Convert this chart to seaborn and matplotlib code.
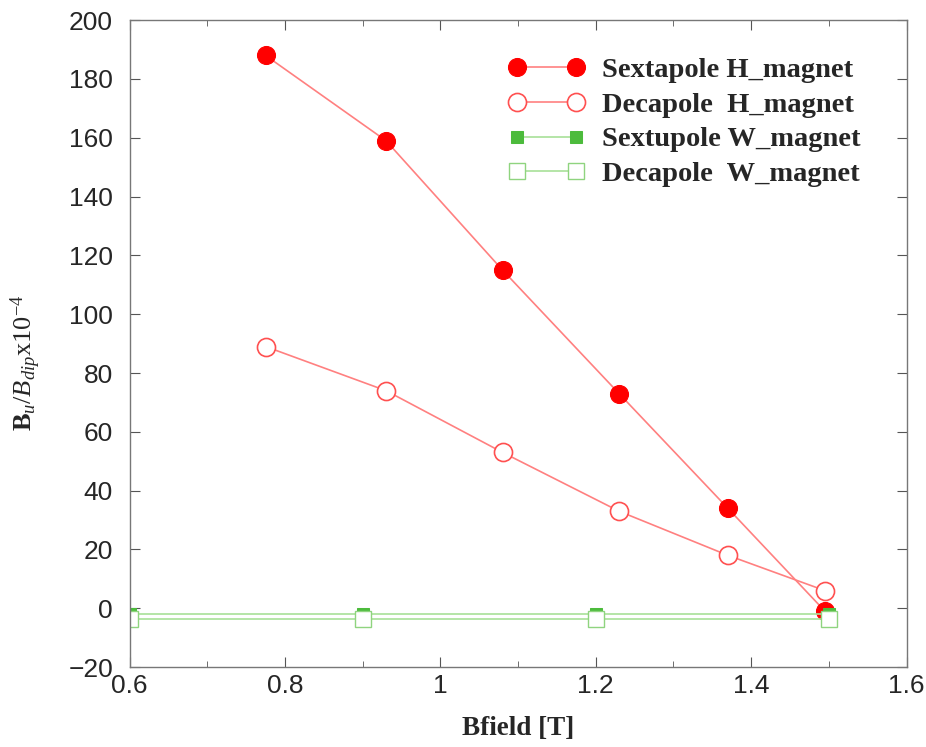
import matplotlib
matplotlib.use("Agg")
import matplotlib.pyplot as plt
import seaborn as sns
from matplotlib.ticker import MultipleLocator

# values
bfield_h = [0.775, 0.93, 1.08, 1.23, 1.37, 1.495]
sextapole_h = [188, 159, 115, 73, 34, -1]
decapole_h = [89, 74, 53, 33, 18, 6]

bfield_w = [0.6, 0.9, 1.2, 1.5]
sextupole_w = [-2, -2, -2, -2]
decapole_w = [-3.6, -3.6, -3.6, -3.6]

xticks = [0.6, 0.8, 1.0, 1.2, 1.4, 1.6]
xtick_labels = ["0.6", "0.8", "1", "1.2", "1.4", "1.6"]
yticks = list(range(-20, 201, 20))

labels = ["Sextapole H_magnet", "Decapole  H_magnet",
          "Sextupole W_magnet", "Decapole  W_magnet"]

sns.set_style("ticks")
plt.rcParams["font.family"] = ["Liberation Sans", "DejaVu Sans"]
plt.rcParams["mathtext.fontset"] = "custom"
plt.rcParams["mathtext.rm"] = "Liberation Serif"
plt.rcParams["mathtext.it"] = "Liberation Serif:italic"
plt.rcParams["mathtext.bf"] = "Liberation Serif:bold"

fig = plt.figure(figsize=(9.26, 7.47), dpi=100)
ax = fig.add_axes([0.140, 0.107, 0.839, 0.866])

red = "#ff0000"
line_red = "#ff8080"
green = "#4cbb3c"
light_green = "#a8e098"

sns.lineplot(x=bfield_h, y=sextapole_h, ax=ax, color=line_red, lw=1.2,
             marker="o", markersize=13, markerfacecolor=red,
             markeredgecolor=red, label=labels[0])
sns.lineplot(x=bfield_h, y=decapole_h, ax=ax, color=line_red, lw=1.2,
             marker="o", markersize=13, markerfacecolor="white",
             markeredgecolor="#ff5050", markeredgewidth=1.2, label=labels[1])
sns.lineplot(x=bfield_w, y=sextupole_w, ax=ax, color=light_green, lw=1.2,
             marker="s", markersize=9, markerfacecolor=green,
             markeredgecolor=green, label=labels[2])
sns.lineplot(x=bfield_w, y=decapole_w, ax=ax, color=light_green, lw=1.2,
             marker="s", markersize=11, markerfacecolor="white",
             markeredgecolor="#8fd47f", markeredgewidth=1.0, label=labels[3])

ax.set_xlim(0.6, 1.6)
ax.set_ylim(-20, 200)
ax.set_xticks(xticks, xtick_labels)
ax.xaxis.set_minor_locator(MultipleLocator(0.1))
ax.set_yticks(yticks, [str(v).replace("-", "\u2212") for v in yticks])
ax.tick_params(which="both", direction="in", top=True, right=True,
               color="#555555", labelsize=19)
ax.tick_params(axis="x", pad=5)
ax.tick_params(axis="y", pad=12)
ax.tick_params(which="major", length=7)
ax.tick_params(which="minor", length=4)
for s in ax.spines.values():
    s.set_color("#777777")
    s.set_linewidth(1.0)

ax.set_xlabel("Bfield [T]", family="Liberation Serif", fontweight="bold",
              fontsize=19.5)
ax.xaxis.set_label_coords(0.5, -0.075)
ax.set_ylabel(r"$\mathbf{B}_{\mathit{u}}/B_{dip}\mathrm{x10^{-4}}$",
              fontsize=19)
ax.yaxis.set_label_coords(-0.112, 0.471)

ax.legend(loc="upper left", frameon=False, numpoints=2, handlelength=2.7,
          prop={"family": "Liberation Serif", "weight": "bold", "size": 20.5},
          labelspacing=0.31, bbox_to_anchor=(0.487, 0.943), handletextpad=0.6,
          borderaxespad=0, borderpad=0)

fig.savefig("out.png", dpi=100)
